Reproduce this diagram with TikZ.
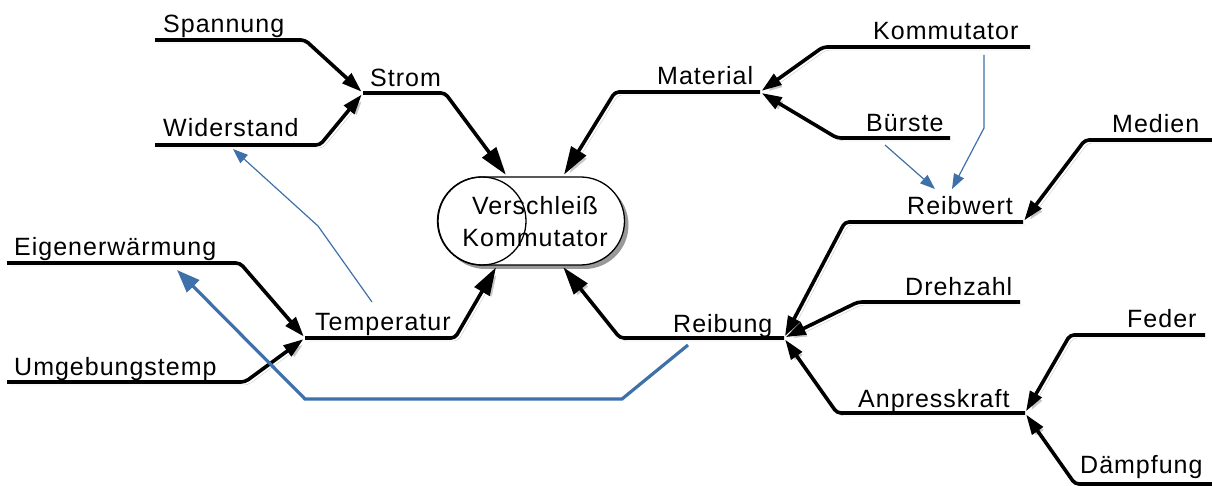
\documentclass[tikz,border=0pt]{standalone}
\usepackage{fontspec}
\usetikzlibrary{arrows.meta}
\newfontfamily\mapfont[LetterSpace=4]{Liberation Sans}
\definecolor{linkblue}{RGB}{62,112,170}
\tikzset{
  lbl/.style={font=\mapfont\fontsize{25}{32}\selectfont, inner sep=0pt, anchor=base west},
  branch/.style={line width=3.6pt, rounded corners=4pt, shorten >=2pt,
    -{Triangle[length=20pt,width=13pt]},
    preaction={draw=black!22, transform canvas={shift={(3pt,-3pt)}}}},
  mainbranch/.style={branch, -{Triangle[length=28pt,width=17pt]}},
  link/.style={draw=linkblue, line width=1.2pt, -{Triangle[length=15pt,width=11pt]}},
  biglink/.style={draw=linkblue, line width=3.2pt, -{Triangle[length=23pt,width=17pt]}},
}
\begin{document}
\begin{tikzpicture}[x=1pt, y=-1pt]
\useasboundingbox (0,0) rectangle (1212,486);
% ends of the underlines
\coordinate (spa-l) at (155,40);   \coordinate (spa-r) at (305,40);
\coordinate (wid-l) at (155,145);  \coordinate (wid-r) at (320,145);
\coordinate (str-l) at (363,93);   \coordinate (str-r) at (445,93);
\coordinate (eig-l) at (7,263);    \coordinate (eig-r) at (240,263);
\coordinate (umg-l) at (7,382);    \coordinate (umg-r) at (245,382);
\coordinate (tmp-l) at (305,338);  \coordinate (tmp-r) at (455,338);
\coordinate (mat-l) at (615,92);   \coordinate (mat-r) at (760,92);
\coordinate (kom-l) at (823,47);   \coordinate (kom-r) at (1030,47);
\coordinate (bue-l) at (837,138);  \coordinate (bue-r) at (950,138);
\coordinate (rbg-l) at (620,338);  \coordinate (rbg-r) at (784,338);
\coordinate (rbw-l) at (845,222);  \coordinate (rbw-r) at (1023,222);
\coordinate (drz-l) at (858,302);  \coordinate (drz-r) at (1020,302);
\coordinate (anp-l) at (837,413);  \coordinate (anp-r) at (1025,413);
\coordinate (med-l) at (1085,140); \coordinate (med-r) at (1212,140);
\coordinate (fed-l) at (1070,335); \coordinate (fed-r) at (1205,335);
\coordinate (dae-l) at (1075,484); \coordinate (dae-r) at (1212,484);
% centre
\node[draw, line width=1.3pt, rounded corners=44pt, minimum width=187pt, minimum height=88pt,
  fill=white, align=center, lbl, anchor=center, text depth=0pt,
  preaction={fill=black!40, transform canvas={shift={(4pt,-4pt)}}}]
  (wear) at (531,221) {\hspace*{8pt}Verschlei\ss\\\hspace*{8pt}Kommutator};
\node[draw, circle, line width=1.3pt, minimum size=88pt, inner sep=0pt] (wearcap) at (482,221) {};
% labels
\node[lbl] (spannung) at (163,33) {Spannung};
\node[lbl] (widerstand) at (163,137) {Widerstand};
\node[lbl] (strom) at (370,87) {Strom};
\node[lbl] (eigen) at (14,255) {Eigenerwärmung};
\node[lbl] (umgebung) at (14,375) {Umgebungstemp};
\node[lbl] (temperatur) at (315,330) {Temperatur};
\node[lbl] (material) at (657,85) {Material};
\node[lbl] (kommutator) at (873,40) {Kommutator};
\node[lbl] (buerste) at (866,132) {Bürste};
\node[lbl] (reibung) at (673,332) {Reibung};
\node[lbl] (reibwert) at (907,215) {Reibwert};
\node[lbl] (drehzahl) at (905,295) {Drehzahl};
\node[lbl] (anpress) at (858,407) {Anpresskraft};
\node[lbl] (medien) at (1112,133) {Medien};
\node[lbl] (feder) at (1127,327) {Feder};
\node[lbl] (daempfung) at (1080,473) {Dämpfung};
% main branches
\draw[mainbranch] (str-l) -- (str-r) -- ([xshift=-24pt]wear.north);
\draw[mainbranch] (mat-r) -- (mat-l) -- ([xshift=32pt]wear.north);
\draw[mainbranch] (tmp-l) -- (tmp-r) -- ([xshift=-34pt]wear.south);
\draw[mainbranch] (rbg-r) -- (rbg-l) -- ([xshift=31pt]wear.south);
% sub branches
\draw[branch] (spa-l) -- (spa-r) -- (str-l);
\draw[branch] (wid-l) -- (wid-r) -- (str-l);
\draw[branch] (eig-l) -- (eig-r) -- (tmp-l);
\draw[branch] (umg-l) -- (umg-r) -- (tmp-l);
\draw[branch] (kom-r) -- (kom-l) -- (mat-r);
\draw[branch] (bue-r) -- (bue-l) -- (mat-r);
\draw[branch] (rbw-r) -- (rbw-l) -- (rbg-r);
\draw[branch] (drz-r) -- (drz-l) -- (rbg-r);
\draw[branch] (anp-r) -- (anp-l) -- (rbg-r);
\draw[branch] (med-r) -- (med-l) -- (rbw-r);
\draw[branch] (fed-r) -- (fed-l) -- (anp-r);
\draw[branch] (dae-r) -- (dae-l) -- (anp-r);
% blue links
\coordinate (t-link) at (372,302);
\coordinate (w-link) at (233,149);
\coordinate (k-link) at (984,55);
\coordinate (b-link) at (885,145);
\coordinate (r-link) at (688,345);
\coordinate (e-link) at (177,270);
\coordinate (rw-in1) at (935,189);
\coordinate (rw-in2) at (952,189);
\draw[link] (t-link) -- (318,226) -- (w-link);
\draw[link] (k-link) -- (984,128) -- (rw-in2);
\draw[link] (b-link) -- (rw-in1);
\draw[biglink] (r-link) -- (622,399) -- (305,399) -- (e-link);
\end{tikzpicture}
\end{document}
